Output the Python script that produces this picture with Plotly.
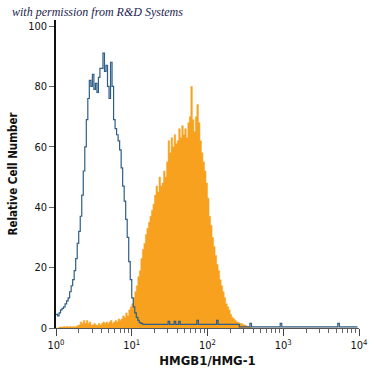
import numpy as np
import plotly.graph_objects as go

# channel positions (log10 of fluorescence), 50 bins per decade
log_pos = np.arange(0, 4, 0.02)

isotype = [
    4.5, 4, 5, 6, 6.5, 7, 8, 9, 10, 12,
    14, 16, 19, 23, 28, 32, 37, 44, 52, 60,
    69, 76, 82, 80, 84, 79, 81, 78, 83, 86,
    86, 91, 85, 87, 80, 76, 88, 80, 69, 66,
    64, 62, 59, 53, 47, 42, 36, 30, 22, 16,
    10, 7, 5, 3.5, 2.5, 1.8, 1.5, 1.3, 1.2, 1.2,
    1.2, 1.2, 1.2, 1.2, 1.2, 1.2, 1.2, 1.2, 1.2, 1.2,
    1.2, 1.2, 1.2, 1.2, 2.2, 1.2, 1.2, 1.2, 2.2, 1.2,
    1.2, 2.2, 1.2, 1.2, 1.2, 1.2, 1.2, 1.2, 1.2, 1.2,
    1.2, 1.2, 1.2, 2.5, 1.2, 1.2, 1.2, 1.2, 1.2, 1.2,
    1.2, 1.2, 1.2, 1.2, 1.2, 1.2, 2.5, 1.2, 1.2, 1.2,
    1.2, 1.2, 1.2, 1.2, 1.2, 1.2, 1.2, 1.2, 1.2, 1.2,
    1.2, 0.4, 0.4, 0.4, 0.4, 0.4, 0.4, 0.4, 1.5, 0.4,
    0.4, 0.4, 0.4, 0.4, 0.4, 0.4, 0.4, 0.4, 0.4, 0.4,
    0.4, 0.4, 0.4, 0.4, 0.4, 0.4, 0.4, 0.4, 1.5, 0.4,
    0.4, 0.4, 0.4, 0.4, 0.4, 0.4, 0.4, 0.4, 0.4, 0.4,
    0.4, 0.4, 0.4, 0.4, 0.4, 0.4, 0.4, 0.4, 0.4, 0.4,
    0.4, 0.4, 0.4, 0.4, 0.4, 0.4, 0.4, 0.4, 0.4, 0.4,
    0.4, 0.4, 0.4, 0.4, 0.4, 0.4, 1.5, 0.4, 0.4, 0.4,
    0.4, 0.4, 0.4, 0.4, 0.4, 0.4, 0.4, 0.4, 0.4, 0.4,
]

hmgb1 = [
    0, 0, 0.3, 0.3, 0.3, 0.5, 0.3, 0.5, 0.3, 0.5,
    0.3, 0.5, 0.3, 0.5, 0.8, 1, 2, 1.5, 2.5, 1.5,
    2.5, 1.5, 2, 1, 1, 1.5, 1, 0.8, 1.5, 1,
    1.5, 2, 1.5, 2, 1.5, 2, 2.5, 1.5, 2, 2.5,
    2, 3, 2.5, 3, 4, 3.5, 5, 4, 6, 7,
    8, 10, 12, 14, 17, 19, 23, 26, 28, 31,
    33, 35, 37, 39, 41, 44, 47, 45, 50, 47,
    48, 52, 50, 55, 62, 58, 63, 60, 64, 61,
    62, 66, 63, 67, 64, 66, 63, 68, 70, 80,
    69, 65, 70, 74, 68, 62, 58, 55, 52, 48,
    43, 37, 34, 30, 27, 24, 21, 19, 16, 14,
    12, 10, 8, 7, 6, 4.5, 3.5, 3, 2.5, 2,
    1.8, 1.5, 1.5, 1.2, 1, 0.8, 0.5, 0.3, 0.3, 0,
    0, 0, 0, 0, 0, 0, 0, 0, 0, 0,
    0, 0, 0, 0, 0, 0, 0, 0, 0, 0,
    0, 0, 0, 0, 0, 0, 0, 0, 0, 0,
    0, 0, 0, 0, 0, 0, 0, 0, 0, 0,
    0, 0, 0, 0, 0, 0, 0, 0, 0, 0,
    0, 0, 0, 0, 0, 0, 0, 0, 0, 0,
    0, 0, 0, 0, 0, 0, 0, 0, 0, 0,
]

x_tickvals = [1, 10, 100, 1000, 10000]
x_ticktext = ["10<sup>0</sup>", "10<sup>1</sup>", "10<sup>2</sup>", "10<sup>3</sup>", "10<sup>4</sup>"]
y_tickvals = [0, 20, 40, 60, 80, 100]
minor_vals = [m * d for d in [1, 10, 100, 1000] for m in range(2, 10)]

x = 10 ** log_pos

FONT = "DejaVu Sans Condensed, Liberation Sans Narrow, sans-serif"

fig = go.Figure()
fig.add_trace(go.Scatter(
    x=x, y=hmgb1, mode="lines", line=dict(shape="hv", width=0.5, color="#F7A11E"),
    fill="tozeroy", fillcolor="#F7A11E", hoverinfo="skip"))
fig.add_trace(go.Scatter(
    x=x, y=isotype, mode="lines", line=dict(shape="hv", width=1.2, color="#2E5E88"),
    hoverinfo="skip"))

fig.update_layout(
    width=375, height=375,
    margin=dict(l=56, r=16, t=20, b=47),
    paper_bgcolor="white", plot_bgcolor="white",
    showlegend=False,
    font=dict(family=FONT, size=11, color="#111"),
    xaxis=dict(
        type="log", range=[0, 4], automargin=False,
        tickvals=x_tickvals, ticktext=x_ticktext,
        ticks="outside", ticklen=7, tickcolor="#444", tickwidth=1,
        minor=dict(tickvals=minor_vals, ticks="outside", ticklen=4, tickcolor="#666", tickwidth=1),
        showline=True, linecolor="#555", linewidth=1,
        showgrid=False, zeroline=False,
        tickfont=dict(size=11),
        title=dict(text="<b>HMGB1/HMG-1</b>", font=dict(size=13), standoff=4),
    ),
    yaxis=dict(
        range=[0, 102], automargin=False,
        tickvals=y_tickvals,
        ticks="outside", ticklen=5, tickcolor="#666",
        showline=True, linecolor="#111", linewidth=1.5,
        showgrid=False, zeroline=False,
        tickfont=dict(size=11),
        title=dict(text="<b>Relative Cell Number</b>", font=dict(size=11.5), standoff=8),
    ),
    annotations=[dict(
        text="with permission from R&D Systems",
        xref="paper", yref="paper", x=-0.152, y=1.025,
        xanchor="left", yanchor="middle", showarrow=False,
        font=dict(family="Liberation Serif, DejaVu Serif, serif", size=12, color="#1c1c4e", style="italic"),
    )],
)

fig.write_html("out.html", config={"displayModeBar": False},
               post_script="document.body.style.margin='0px';")
